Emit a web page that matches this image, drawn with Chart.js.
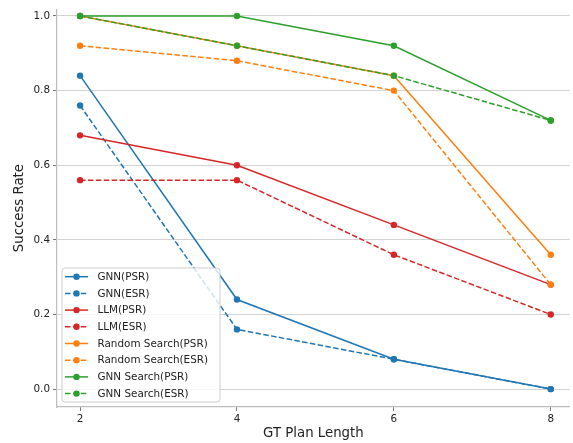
<!DOCTYPE html>
<html><head><meta charset="utf-8">
<script src="https://cdn.jsdelivr.net/npm/chart.js@4"></script>
<style>html,body{margin:0;padding:0;background:#fff}#wrap{width:573px;height:443px}</style>
</head><body><div id="wrap"><canvas id="c" width="573" height="443"></canvas></div>
<script>
const planLengths = [2, 4, 6, 8];
const gnnPSR = [0.84, 0.24, 0.08, 0.0];
const gnnESR = [0.76, 0.16, 0.08, 0.0];
const llmPSR = [0.68, 0.60, 0.44, 0.28];
const llmESR = [0.56, 0.56, 0.36, 0.20];
const rsPSR = [1.0, 0.92, 0.84, 0.36];
const rsESR = [0.92, 0.88, 0.80, 0.28];
const gsPSR = [1.0, 1.0, 0.92, 0.72];
const gsESR = [1.0, 0.92, 0.84, 0.72];
const yTicks = [0.0, 0.2, 0.4, 0.6, 0.8, 1.0];

const BLUE = '#1f77b4', ORANGE = '#ff7f0e', GREEN = '#2ca02c', RED = '#d62728';
const series = [
  ['GNN(PSR)', gnnPSR, BLUE, false],
  ['GNN(ESR)', gnnESR, BLUE, true],
  ['LLM(PSR)', llmPSR, RED, false],
  ['LLM(ESR)', llmESR, RED, true],
  ['Random Search(PSR)', rsPSR, ORANGE, false],
  ['Random Search(ESR)', rsESR, ORANGE, true],
  ['GNN Search(PSR)', gsPSR, GREEN, false],
  ['GNN Search(ESR)', gsESR, GREEN, true],
];
const DASH = [5.5, 2.4];
const datasets = series.map(([label, vals, color, dashed], i) => ({
  label,
  data: planLengths.map((x, j) => ({x, y: vals[j]})),
  borderColor: color, backgroundColor: color,
  borderWidth: 1.5, borderDash: dashed ? DASH : [],
  pointRadius: 3.2, pointHoverRadius: 3.2, pointBorderWidth: 0,
  tension: 0, fill: false, order: series.length - i
}));

const FONT = 'DejaVu Sans';
const legendPlugin = {
  id: 'inlegend',
  afterDraw(chart) {
    const ctx = chart.ctx;
    const x0 = 62, y0 = 268, w = 158, h = 134, r = 3;
    ctx.save();
    ctx.beginPath();
    ctx.moveTo(x0 + r, y0); ctx.lineTo(x0 + w - r, y0); ctx.arcTo(x0 + w, y0, x0 + w, y0 + r, r);
    ctx.lineTo(x0 + w, y0 + h - r); ctx.arcTo(x0 + w, y0 + h, x0 + w - r, y0 + h, r);
    ctx.lineTo(x0 + r, y0 + h); ctx.arcTo(x0, y0 + h, x0, y0 + h - r, r);
    ctx.lineTo(x0, y0 + r); ctx.arcTo(x0, y0, x0 + r, y0, r); ctx.closePath();
    ctx.fillStyle = 'rgba(255,255,255,0.8)'; ctx.fill();
    ctx.strokeStyle = '#cccccc'; ctx.lineWidth = 1; ctx.stroke();
    chart.data.datasets.forEach((ds, i) => {
      const yy = 276.7 + i * 16.7;
      ctx.strokeStyle = ds.borderColor; ctx.lineWidth = 1.5;
      ctx.setLineDash(ds.borderDash || []);
      ctx.beginPath(); ctx.moveTo(65, yy); ctx.lineTo(88, yy); ctx.stroke();
      ctx.setLineDash([]);
      ctx.fillStyle = ds.borderColor;
      ctx.beginPath(); ctx.arc(76.5, yy, 3.2, 0, Math.PI * 2); ctx.fill();
      ctx.fillStyle = '#222'; ctx.font = '10.4px "' + FONT + '"';
      ctx.textBaseline = 'middle'; ctx.textAlign = 'left';
      ctx.fillText(ds.label, 97.5, yy + 0.5);
    });
    ctx.restore();
  }
};

new Chart(document.getElementById('c'), {
  type: 'line',
  data: {datasets},
  options: {
    responsive: false, animation: false,
    devicePixelRatio: 1,
    layout: {padding: {left: 0, right: 0, top: 0, bottom: 0}},
    plugins: {legend: {display: false}, tooltip: {enabled: false}},
    scales: {
      x: {
        type: 'linear', min: 1.706, max: 8.243,
        afterBuildTicks: s => { s.ticks = planLengths.map(v => ({value: v})); },
        afterFit: s => { s.height = 36; },
        ticks: {color: '#222', font: {family: FONT, size: 10.4}, padding: 2, maxRotation: 0,
                callback: v => String(v)},
        grid: {display: true, drawOnChartArea: false, drawTicks: true, tickLength: 4, tickColor: '#555', tickWidth: 0.8},
        border: {display: true, color: '#bdbdbd', width: 1.2},
        title: {display: true, text: 'GT Plan Length', color: '#222', font: {family: FONT, size: 13.3}, padding: {top: 0, bottom: 1}}
      },
      y: {
        type: 'linear', min: -0.048, max: 1.018,
        afterBuildTicks: s => { s.ticks = yTicks.map(v => ({value: v})); },
        afterFit: s => { s.width = 57; },
        ticks: {color: '#222', font: {family: FONT, size: 10.4}, padding: 3,
                callback: v => Number(v).toFixed(1)},
        grid: {display: true, color: '#c8c8c8', lineWidth: 0.8, borderDash: [1.5, 2.5],
               drawTicks: true, tickLength: 4, tickColor: '#555', tickWidth: 0.8, tickBorderDash: []},
        border: {display: true, color: '#bdbdbd', width: 1.2},
        title: {display: true, text: 'Success Rate', color: '#222', font: {family: FONT, size: 13.3}, padding: {top: 12, bottom: 0}}
      }
    }
  },
  plugins: [legendPlugin]
});
</script>
</body></html>
